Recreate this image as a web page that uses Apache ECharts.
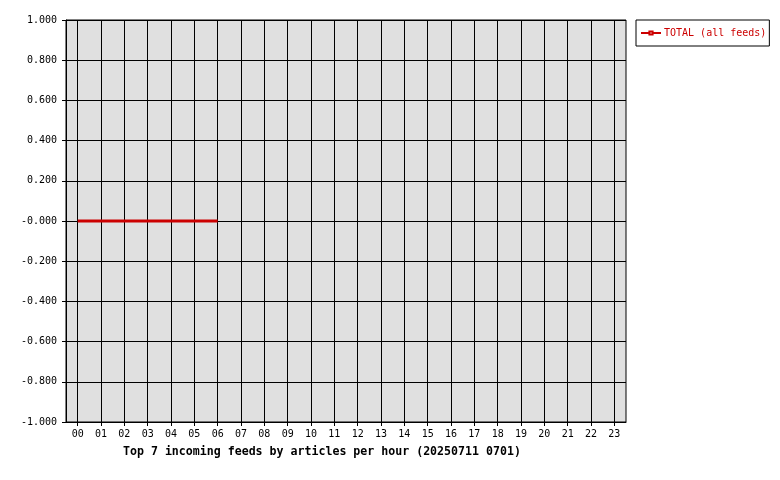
<!DOCTYPE html>
<html>
<head>
    <meta charset="utf-8">
    <script src="https://cdn.jsdelivr.net/npm/echarts@6/dist/echarts.min.js"></script>
    <style>
        body { margin: 0; background: #fff; }
    </style>
</head>
<body>
<div id="myChart" style="width: 780px; height: 480px;"></div>

<script type="text/javascript">
    var chart = echarts.init(document.getElementById('myChart'));

    var hours = ['00', '01', '02', '03', '04', '05', '06', '07', '08', '09', '10', '11',
        '12', '13', '14', '15', '16', '17', '18', '19', '20', '21', '22', '23'];
    // articles per hour, only the first hours have a value
    var totalValues = [0, 0, 0, 0, 0, 0, 0, null, null, null, null, null,
        null, null, null, null, null, null, null, null, null, null, null, null];
    var yTicks = [-1, -0.8, -0.6, -0.4, -0.2, 0, 0.2, 0.4, 0.6, 0.8, 1];
    var yTickLabels = ['-1.000', '-0.800', '-0.600', '-0.400', '-0.200', '-0.000',
        '0.200', '0.400', '0.600', '0.800', '1.000'];
    var seriesName = 'TOTAL (all feeds)';
    var titleText = 'Top 7 incoming feeds by articles per hour (20250711 0701)';

    var font = '"DejaVu Sans Mono", monospace';

    var option = {
        animation: false,
        title: {
            text: titleText,
            left: 123,
            top: 446,
            padding: 0,
            textStyle: {
                fontFamily: font,
                fontSize: 11.6,
                fontWeight: 'bold',
                color: '#000',
            },
        },
        legend: {
            data: [seriesName],
            left: 636,
            top: 20,
            padding: [8, 3, 8, 4],
            itemWidth: 20,
            itemHeight: 4,
            itemGap: 0,
            borderColor: '#000',
            borderWidth: 1,
            borderRadius: 0,
            textStyle: {
                fontFamily: font,
                fontSize: 10,
                color: '#cc0000',
                padding: [0, 0, 0, -2],
            },
        },
        grid: {
            left: 66,
            top: 20,
            right: 154,
            bottom: 58,
            show: true,
            backgroundColor: '#e0e0e0',
            borderColor: '#000',
            borderWidth: 1,
        },
        xAxis: [{
            // grid lines through each hour
            type: 'category',
            data: hours,
            position: 'bottom',
            boundaryGap: true,
            axisLine: {
                show: true,
                onZero: false,
                lineStyle: {color: '#000', width: 1},
            },
            axisTick: {
                show: true,
                alignWithLabel: true,
                inside: true,
                length: 402,
                lineStyle: {color: '#000', width: 1},
            },
            axisLabel: {show: false},
            splitLine: {show: false},
        }, {
            // short ticks and hour labels
            type: 'category',
            data: hours,
            position: 'bottom',
            boundaryGap: true,
            axisLine: {show: false, onZero: false},
            axisTick: {
                show: true,
                alignWithLabel: true,
                length: 4,
                lineStyle: {color: '#000', width: 1},
            },
            axisLabel: {
                margin: 7,
                fontFamily: font,
                fontSize: 10,
                color: '#000',
            },
            splitLine: {show: false},
        }],
        yAxis: {
            type: 'value',
            min: yTicks[0],
            max: yTicks[yTicks.length - 1],
            interval: 0.2,
            axisLine: {
                show: true,
                onZero: false,
                lineStyle: {color: '#000', width: 1},
            },
            axisTick: {
                show: true,
                length: 4,
                lineStyle: {color: '#000', width: 1},
            },
            axisLabel: {
                margin: 9,
                fontFamily: font,
                fontSize: 10,
                color: '#000',
                formatter: function (v) {
                    var best = 0;
                    for (var i = 0; i < yTicks.length; i++) {
                        if (Math.abs(yTicks[i] - v) < Math.abs(yTicks[best] - v)) best = i;
                    }
                    return yTickLabels[best];
                },
            },
            splitLine: {
                show: true,
                lineStyle: {color: '#000', width: 1},
            },
        },
        series: [{
            name: seriesName,
            type: 'line',
            xAxisIndex: 0,
            data: totalValues,
            symbol: 'emptyRect',
            symbolSize: 4,
            showSymbol: false,
            connectNulls: false,
            lineStyle: {color: '#cc0000', width: 3},
            itemStyle: {color: '#cc0000'},
            z: 5,
        }],
    };

    chart.setOption(option, true);
</script>
</body>
</html>
